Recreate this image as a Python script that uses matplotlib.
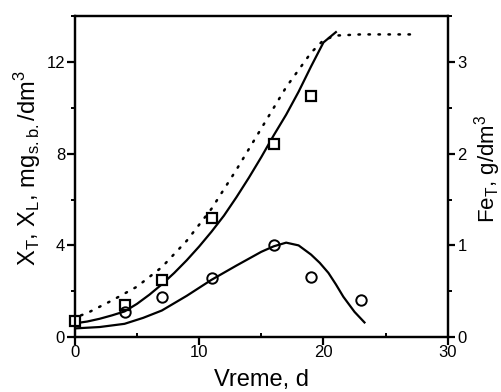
import numpy as np
import matplotlib
matplotlib.use('Agg')
import matplotlib.pyplot as plt
from matplotlib.ticker import MultipleLocator

plt.rcParams['font.family'] = ['Liberation Sans', 'DejaVu Sans']
plt.rcParams['mathtext.fontset'] = 'custom'
plt.rcParams['mathtext.rm'] = 'Liberation Sans'

# Measured points, X (squares, left axis)
sq_t = [0, 4, 7, 11, 16, 19]
sq_x = [0.7, 1.4, 2.5, 5.2, 8.4, 10.5]

# Measured points, Fe (circles, right axis)
ci_t = [4, 7, 11, 16, 19, 23]
ci_fe = [0.275, 0.44, 0.64, 1.0, 0.65, 0.40]

# Model curve X (solid, left axis)
mx_t = [0, 1, 2, 3, 4, 5, 6, 7, 8, 9, 10, 11, 12, 13, 14, 15, 16, 17,
        18, 19, 20, 21]
mx_y = [0.6, 0.68, 0.8, 0.95, 1.12, 1.45, 1.85, 2.3, 2.8, 3.35, 3.95,
        4.6, 5.3, 6.1, 6.95, 7.85, 8.8, 9.7, 10.7, 11.8, 12.85, 13.3]

# Model curve (dotted, left axis)
md_t = [0.5, 1, 3, 5, 7, 9, 11, 13, 15, 17, 19, 20, 21, 23, 27]
md_y = [0.95, 1.05, 1.6, 2.2, 3.05, 4.2, 5.6, 7.3, 9.1, 10.9, 12.4,
        12.95, 13.15, 13.2, 13.2]

# Model curve Fe (solid, right axis)
mf_t = [0, 2, 4, 5.5, 7, 9, 11, 13, 15, 16, 17, 18, 19, 19.7, 20.4, 21,
        21.6, 22.5, 23.3]
mf_y = [0.095, 0.11, 0.145, 0.21, 0.29, 0.45, 0.625, 0.78, 0.93, 0.99,
        1.03, 1.0, 0.9, 0.81, 0.7, 0.575, 0.44, 0.275, 0.16]

fig = plt.figure(figsize=(5.02, 3.92), dpi=100)
ax1 = fig.add_axes([0.149, 0.140, 0.743, 0.819])
ax2 = ax1.twinx()

ax1.plot(md_t, md_y, color='black', linewidth=1.8,
         linestyle=(0, (0.6, 3.4)), dash_capstyle='round')
ax1.plot(mx_t, mx_y, color='black', linewidth=1.6)
ax1.plot(sq_t, sq_x, linestyle='none', marker='s', markersize=6.5,
         markerfacecolor='white', markeredgecolor='black',
         markeredgewidth=1.6, clip_on=False, zorder=5)

ax2.plot(mf_t, mf_y, color='black', linewidth=1.6)
ax2.plot(ci_t, ci_fe, linestyle='none', marker='o', markersize=7.5,
         markerfacecolor='none', markeredgecolor='black',
         markeredgewidth=1.4, zorder=5)

ax1.set_xlim(0, 30)
ax1.set_ylim(0, 14)
ax2.set_ylim(0, 3.5)

ax1.xaxis.set_major_locator(MultipleLocator(10))
ax1.xaxis.set_minor_locator(MultipleLocator(5))
ax1.yaxis.set_major_locator(MultipleLocator(4))
ax1.yaxis.set_minor_locator(MultipleLocator(2))
ax2.yaxis.set_major_locator(MultipleLocator(1))
ax2.yaxis.set_minor_locator(MultipleLocator(0.5))

for ax in (ax1, ax2):
    for sp in ax.spines.values():
        sp.set_linewidth(1.6)

ax1.tick_params(axis='both', which='major', direction='out', length=6,
                width=1.6, labelsize=12, pad=1)
ax1.tick_params(axis='y', which='minor', direction='out', length=3,
                width=1.4)
ax1.tick_params(axis='x', which='minor', direction='in', length=3,
                width=1.4)
ax1.tick_params(axis='x', which='major', pad=0)
ax2.tick_params(axis='y', which='major', direction='out', length=5,
                width=1.6, labelsize=12, pad=2)
ax2.tick_params(axis='y', which='minor', direction='out', length=3,
                width=1.4)

ax1.set_xlabel('Vreme, d', fontsize=17)
ax1.xaxis.set_label_coords(0.5, -0.1)
ax1.set_ylabel(r'X$_\mathregular{T}$, X$_\mathregular{L}$, '
               r'mg$_\mathregular{s.b.}$/dm$^\mathregular{3}$', fontsize=17)
ax1.yaxis.set_label_coords(-0.085, 0.525)
ax2.set_ylabel(r'Fe$_\mathregular{T}$, g/dm$^\mathregular{3}$',
               fontsize=16, rotation=90)
ax2.yaxis.set_label_coords(1.065, 0.525)

fig.savefig('out.png', dpi=100)
